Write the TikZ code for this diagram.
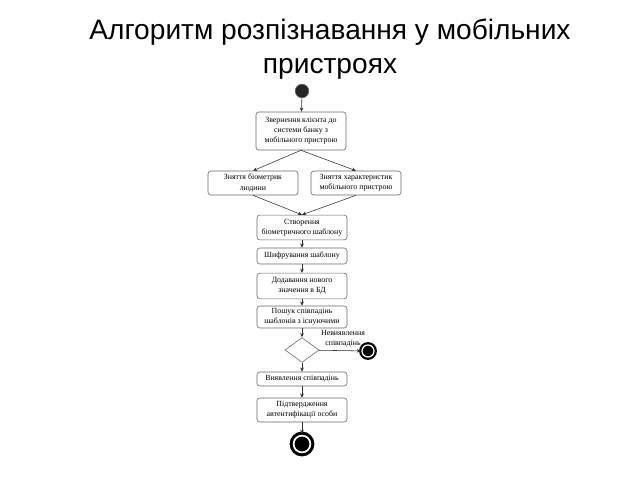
\documentclass[tikz,border=0pt]{standalone}
\usepackage{fontspec}
\setmainfont{Liberation Serif}
\newfontfamily\titlefont{Liberation Sans}
\usetikzlibrary{shapes.geometric,arrows.meta}

\begin{document}
\begin{tikzpicture}[x=0.025cm,y=-0.025cm,
  stage/.style={draw=black!60, rounded corners=2pt, fill=white, minimum width=2.25cm,
    align=center, inner sep=1pt, font=\fontsize{5.6}{7.2}\selectfont},
  arr/.style={-{Stealth[length=3pt,width=2.6pt]}, black!80, thin},
  finish/.style={circle, draw=black, line width=1.6pt, fill=black, inner sep=0pt,
    minimum size=0.3cm, double=white, double distance=0.9pt}]
\useasboundingbox (0,0) rectangle (640,480);
% title
\node[font=\titlefont\fontsize{20}{24}\selectfont, align=center] (title) at (330,49)
  {Алгоритм розпізнавання у мобільних\\пристроях};
% start
\node[circle, fill=black!85, draw=black!60, minimum size=0.34cm, inner sep=0pt] (start) at (302,91) {};
% stages
\node[stage, minimum height=0.95cm] (ask) at (301,131) {Звернення клієнта до\\системи банку з\\мобільного пристрою};
\node[stage, minimum height=0.6cm] (bio) at (253,183) {Зняття біометрик\\людини};
\node[stage, minimum height=0.6cm] (dev) at (356,183) {Зняття характеристик\\мобільного пристрою};
\node[stage, minimum height=0.62cm] (tmpl) at (302,227.5) {Створення\\біометричного шаблону};
\node[stage, minimum height=0.4cm] (enc) at (302,256) {Шифрування шаблону};
\node[stage, minimum height=0.64cm] (add) at (302,286) {Додавання нового\\значення в БД};
\node[stage, minimum height=0.55cm] (find) at (302,317) {Пошук співпадінь\\шаблонів з існуючими};
\node[diamond, draw=black!60, minimum width=0.85cm, minimum height=0.62cm, inner sep=0pt] (dec) at (302,350) {};
\node[finish] (stopA) at (368,351) {};
\node[stage, minimum height=0.35cm] (hit) at (302,379) {Виявлення співпадінь};
\node[stage, minimum height=0.6cm] (conf) at (302,410) {Підтвердження\\автентифікації особи};
\node[finish, minimum size=0.42cm, line width=2.2pt, double distance=1.2pt] (stopB) at (302,444) {};
\node[font=\fontsize{5.6}{7.2}\selectfont, align=center] (miss) at (343,338.5) {Невиявлення\\співпадінь};
% arrows
\draw[arr] (start) -- (ask);
\draw[arr] (ask.south) -- (bio.north);
\draw[arr] (ask.south) -- (dev.north);
\draw[arr] (bio.south) -- (tmpl.north);
\draw[arr] (dev.south) -- (tmpl.north);
\draw[arr] (tmpl) -- (enc);
\draw[arr] (enc) -- (add);
\draw[arr] (add) -- (find);
\draw[arr] (find) -- (dec);
\draw[arr] (dec) -- (stopA);
\draw[arr] (dec) -- (hit);
\draw[arr] (hit) -- (conf);
\draw[arr] (conf) -- (stopB);
\end{tikzpicture}
\end{document}
